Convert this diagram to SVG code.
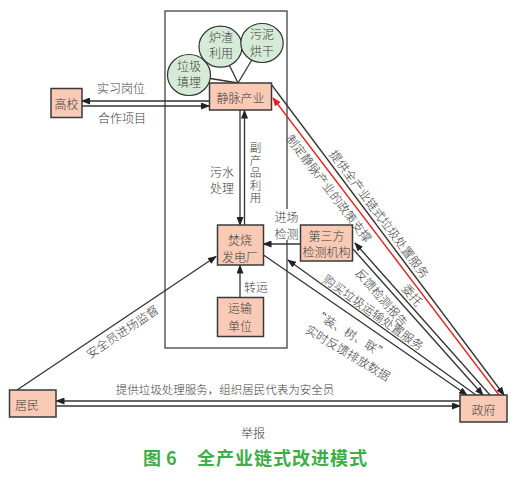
<svg xmlns="http://www.w3.org/2000/svg" width="511" height="479" viewBox="0 0 511 479">
<style>
.box{fill:#f9cbb7;stroke:#3a3a3a;stroke-width:1.5}
.circ{fill:#d6ebd7;stroke:#333;stroke-width:1.2}
.t{font-family:"Noto Sans CJK SC","Noto Sans",sans-serif;font-size:12px;font-weight:300;fill:#3c3c3c;text-anchor:middle;dominant-baseline:central}
.ln{stroke:#333;stroke-width:1.3;fill:none}
.lnr{stroke:#e8201c;stroke-width:1.3;fill:none}
.ar{marker-end:url(#ah)}
</style>
<defs>
<marker id="ah" markerUnits="userSpaceOnUse" markerWidth="9" markerHeight="7" refX="8" refY="3.5" orient="auto">
<path d="M0,0 L9,3.5 L0,7 z" fill="#222"/>
</marker>
<marker id="ahr" markerUnits="userSpaceOnUse" markerWidth="9" markerHeight="7" refX="8" refY="3.5" orient="auto">
<path d="M0,0 L9,3.5 L0,7 z" fill="#e8201c"/>
</marker>
</defs>
<rect width="511" height="479" fill="#fff"/>

<g id="chain-frame">
<rect x="165" y="11" width="122" height="337" fill="none" stroke="#333" stroke-width="1.2"/>
</g>

<g id="connectors">
<line class="ln" x1="238" y1="83" x2="189" y2="75"/>
<line class="ln" x1="238" y1="83" x2="220.5" y2="47"/>
<line class="ln" x1="238" y1="83" x2="262" y2="43"/>
<line class="ln ar" x1="209" y1="101" x2="82" y2="101"/>
<line class="ln ar" x1="82" y1="106" x2="209" y2="106"/>
<line class="ln ar" x1="240" y1="110" x2="240" y2="225"/>
<line class="ln ar" x1="244.5" y1="225" x2="244.5" y2="110.5"/>
<line class="ln ar" x1="240" y1="297.5" x2="240" y2="265.5"/>
<line class="ln ar" x1="300.5" y1="244" x2="263.5" y2="244"/>
<line class="ln ar" x1="17" y1="390" x2="216" y2="256.5"/>
<line class="ln ar" x1="460" y1="401" x2="56.5" y2="401"/>
<line class="ln ar" x1="56.5" y1="406" x2="460" y2="406"/>
<line class="ln ar" x1="263.5" y1="255" x2="467" y2="395"/>
<line class="ln ar" x1="476" y1="395" x2="288" y2="260"/>
<line class="ln ar" x1="353" y1="249" x2="483" y2="395"/>
<line class="ln ar" x1="490" y1="395" x2="355" y2="243"/>
<line class="ln ar" x1="271" y1="84" x2="504" y2="395"/>
<line class="lnr" x1="499" y1="395" x2="273" y2="98" marker-end="url(#ahr)"/>
</g>

<g id="node-landfill"><ellipse class="circ" cx="189" cy="75" rx="21.5" ry="20.5"/>
<text class="t" x="189" y="65.5">垃圾</text><text class="t" x="189" y="81.5">填埋</text></g>
<g id="node-slag"><ellipse class="circ" cx="220.5" cy="46.7" rx="21.5" ry="20.5"/>
<text class="t" x="221" y="36.5">炉渣</text><text class="t" x="221" y="52.5">利用</text></g>
<g id="node-sludge"><ellipse class="circ" cx="262" cy="43" rx="21.2" ry="19.5"/>
<text class="t" x="262" y="33.5">污泥</text><text class="t" x="262" y="50">烘干</text></g>

<g id="node-venous"><rect class="box" x="209.5" y="83" width="62" height="27"/>
<text class="t" x="240.5" y="97">静脉产业</text></g>
<g id="node-college"><rect class="box" x="51" y="88.5" width="31" height="29"/>
<text class="t" x="66.5" y="103">高校</text></g>
<g id="node-plant"><rect class="box" x="217.5" y="225" width="46" height="40"/>
<text class="t" x="240" y="239">焚烧</text><text class="t" x="240" y="256">发电厂</text></g>
<g id="node-transport"><rect class="box" x="217.5" y="297.5" width="46" height="39"/>
<text class="t" x="240" y="307">运输</text><text class="t" x="240" y="325">单位</text></g>
<g id="node-thirdparty"><rect class="box" x="300.5" y="225" width="52" height="36"/>
<text class="t" x="326.5" y="235.5">第三方</text><text class="t" x="326.5" y="251">检测机构</text></g>
<g id="node-residents"><rect class="box" x="9.5" y="390" width="46.5" height="27"/>
<text class="t" x="27" y="404">居民</text></g>
<g id="node-government"><rect class="box" x="460" y="395" width="47" height="27"/>
<text class="t" x="483.5" y="409">政府</text></g>

<g id="labels">
<text class="t" x="121" y="87.5">实习岗位</text>
<text class="t" x="122" y="117.5">合作项目</text>
<text class="t" x="222" y="171">污水</text>
<text class="t" x="222" y="187">处理</text>
<text x="255.5" y="142" writing-mode="vertical-rl" style="font-family:'Noto Sans CJK SC','Noto Sans',sans-serif;font-size:11.5px;font-weight:300;fill:#3c3c3c;letter-spacing:1px">副产品利用</text>
<rect x="275" y="209" width="23" height="31" fill="#fff"/>
<text class="t" x="286.5" y="216.5">进场</text>
<text class="t" x="286.5" y="233">检测</text>
<text class="t" x="256" y="286.5">转运</text>
<text class="t" transform="translate(380,213.5) rotate(53.2)">提供全产业链式垃圾处置服务</text>
<text class="t" transform="translate(329.8,187.8) rotate(52.7)">制定静脉产业的政策支撑</text>
<text class="t" transform="translate(413,294.5) rotate(50)">委托</text>
<text class="t" transform="translate(382.5,297) rotate(49)">反馈检测报告</text>
<text class="t" transform="translate(374,311.8) rotate(35.7)">购买垃圾运输处置服务</text>
<text class="t" transform="translate(351,333) rotate(31)">“装、树、联”</text>
<text class="t" transform="translate(348.5,352) rotate(31)">实时反馈排放数据</text>
<text class="t" transform="translate(121.7,331) rotate(-33.9)">安全员进场监督</text>
<text class="t" x="225" y="389" style="font-size:11.5px">提供垃圾处理服务，组织居民代表为安全员</text>
<text class="t" x="253" y="432">举报</text>
</g>

<g id="caption">
<text font-family="'Noto Sans CJK SC','Noto Sans',sans-serif" font-size="18" font-weight="bold" fill="#3cae48" y="465"><tspan x="143">图</tspan><tspan x="166">6</tspan><tspan x="197" textLength="170">全产业链式改进模式</tspan></text>
</g>
</svg>
